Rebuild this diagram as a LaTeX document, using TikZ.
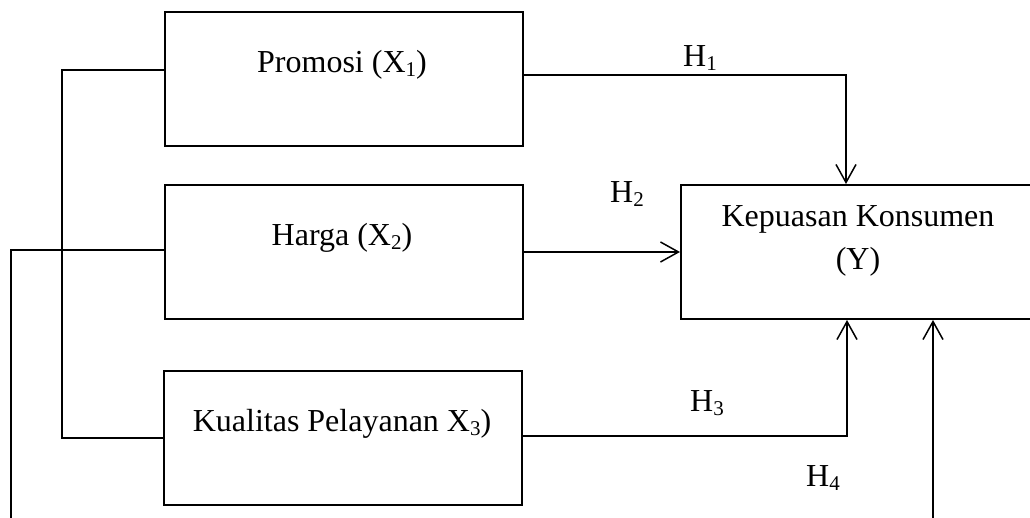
\documentclass[tikz,border=0pt]{standalone}
\usepackage{fontspec}
\setmainfont{Liberation Serif}
\usetikzlibrary{arrows.meta}
\newcommand{\sbs}[1]{\raisebox{-0.12em}{\fontsize{10.5}{11}\selectfont #1}}
\begin{document}
\begin{tikzpicture}[x=0.5pt,y=-0.5pt,
  box/.style={draw, line width=1pt, minimum width=179pt, minimum height=67pt, inner sep=0pt, anchor=north west},
  ybox/.style={draw, line width=1pt, minimum width=182pt, minimum height=67pt, inner sep=0pt, anchor=north west},
  txt/.style={font=\fontsize{16}{19}\selectfont, anchor=base, inner sep=0pt},
  conn/.style={line width=0.75pt},
  arr/.style={conn, -{Straight Barb[length=9pt,width=10pt]}}]
\useasboundingbox (0,0) rectangle (1030,518);
\clip (0,0) rectangle (1030,518);
% boxes
\node[box] (b1) at (164,11) {};
\node[box] (b2) at (164,184) {};
\node[box] (b3) at (163,370) {};
\node[ybox] (y) at (680,184) {};
% box texts
\node[txt] (t1) at (342,73) {Promosi (X\sbs{1})};
\node[txt] (t2) at (342,246) {Harga (X\sbs{2})};
\node[txt] (t3) at (342,432) {Kualitas Pelayanan X\sbs{3})};
\node[txt] (ty1) at (858,227) {Kepuasan Konsumen};
\node[txt] (ty2) at (858,270) {(Y)};
% labels
\node[txt] (h1) at (700,67) {H\sbs{1}};
\node[txt] (h2) at (627,203) {H\sbs{2}};
\node[txt] (h3) at (707,412) {H\sbs{3}};
\node[txt] (h4) at (823,487) {H\sbs{4}};
% coordinates
\coordinate (h1a) at (846,75);
\coordinate (h3a) at (847,436);
\coordinate (h4a) at (933,525);
\coordinate (l1) at (62,70);
\coordinate (l2) at (11,525);
% connectors
\draw[arr] (b1.east |- h1a) -- (h1a) -- (h1a |- y.north);
\draw[arr] (b2.east) -- (y.west);
\draw[arr] (b3.east |- h3a) -- (h3a) -- (h3a |- y.south);
\draw[arr] (h4a) -- (h4a |- y.south);
\draw[conn] (b1.west |- l1) -- (l1) -- (l1 |- b3.west) -- (b3.west);
\draw[conn] ([yshift=1pt]b2.west) -- ([yshift=1pt]b2.west -| l2) -- (l2);
\end{tikzpicture}
\end{document}
